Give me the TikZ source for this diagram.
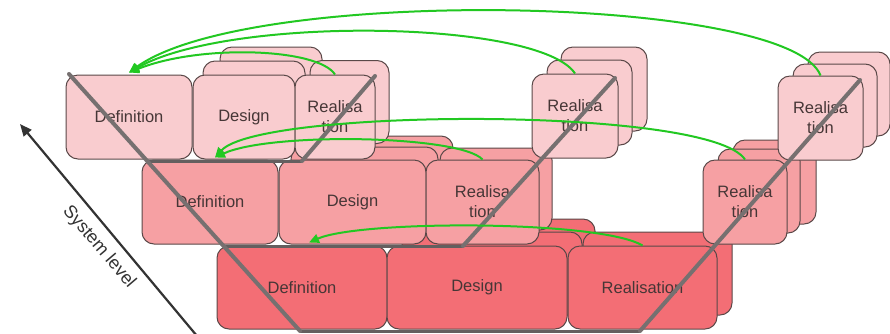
\documentclass[tikz,border=0pt]{standalone}
\usepackage{fontspec}
\setmainfont{Liberation Sans}
\usetikzlibrary{arrows.meta}
\definecolor{ctop}{HTML}{F9CCCF}
\definecolor{cmid}{HTML}{F6A0A3}
\definecolor{cbot}{HTML}{F36E75}
\definecolor{cedge}{HTML}{5A4848}
\definecolor{ctext}{HTML}{463636}
\definecolor{cvline}{HTML}{767070}
\definecolor{cgreen}{HTML}{22C822}
\definecolor{caxis}{HTML}{333333}
\begin{document}
\begin{tikzpicture}[x=1pt,y=-1pt,
  blk/.style={draw=cedge, line width=1pt, rounded corners=12pt, inner sep=0pt,
    text=ctext, align=center, font=\fontsize{16.5}{20}\selectfont},
  sz/.style 2 args={minimum width=#1pt, minimum height=#2pt},
  toprow/.style={blk, fill=ctop},
  midrow/.style={blk, fill=cmid},
  botrow/.style={blk, fill=cbot},
  vline/.style={draw=cvline, line width=4pt, line cap=round},
  hline/.style={draw=cvline!85!black, line width=3pt},
  fb/.style={draw=cgreen, line width=2pt, -{Triangle[length=10pt,width=9pt]}},
  axis/.style={draw=caxis, line width=2.2pt, -{Triangle[length=12pt,width=10pt]}},
  axislabel/.style={text=caxis, font=\fontsize{18}{22}\selectfont, rotate=-49.6}]
\useasboundingbox (0,0) rectangle (890,333);

% ---- bottom row ----
\node[botrow, sz={170}{83}] (bDef) at (302,287.5) {Definition};
\node[botrow, sz={180}{83}] (bDesB2) at (505,260.5) {};
\node[botrow, sz={180}{83}] (bDesB1) at (492,273.5) {};
\node[botrow, sz={180}{83}] (bDes) at (477,287.5) {Design};
\node[botrow, sz={149}{83}] (bReaB1) at (657.5,273.5) {};
\node[botrow, sz={149}{83}] (bRea) at (642.5,287.5) {Realisation};

% ---- middle row ----
\node[midrow, sz={136}{84}] (mDef) at (210,202) {Definition};
\node[midrow, sz={147}{84}] (mDesB2) at (379.5,178) {};
\node[midrow, sz={147}{84}] (mDesB1) at (364.5,189) {};
\node[midrow, sz={147}{84}] (mDes) at (352.5,202) {Design};
\node[midrow, sz={112}{82}] (mReaB1) at (496,189) {};
\node[midrow, sz={113}{84}] (mRea) at (482.5,202) {Realisa\\tion};
\node[midrow, sz={83}{84}] (mrRB2) at (774.5,182) {};
\node[midrow, sz={82}{84}] (mrRB1) at (759,191) {};
\node[midrow, sz={84}{84}] (mrR) at (745,202) {Realisa\\tion};

% ---- top row ----
\node[toprow, sz={126}{84}] (tDef) at (129,117) {Definition};
\node[toprow, sz={102}{84}] (tDesB2) at (271,89) {};
\node[toprow, sz={102}{84}] (tDesB1) at (254,103) {};
\node[toprow, sz={102}{84}] (tDes) at (244,117) {Design};
\node[toprow, sz={79}{83}] (tReaB1) at (349.5,102) {};
\node[toprow, sz={80}{84}] (tRea) at (335,117) {Realisa\\tion};
\node[toprow, sz={86}{84}] (tmRB2) at (604,89) {};
\node[toprow, sz={85}{85}] (tmRB1) at (589.5,102.5) {};
\node[toprow, sz={86}{84}] (tmR) at (575,116) {Realisa\\tion};
\node[toprow, sz={82}{84}] (trRB2) at (849,94) {};
\node[toprow, sz={84}{83}] (trRB1) at (835,105.5) {};
\node[toprow, sz={85}{84}] (trR) at (820.5,118) {Realisa\\tion};

% ---- V lines ----
\coordinate (v1a) at (69,74);
\coordinate (v1b) at (300,331);
\coordinate (v1c) at (640,331);
\coordinate (v1d) at (860,80);
\coordinate (v2a) at (224,246);
\coordinate (v2b) at (463,246);
\coordinate (v2c) at (615,78);
\coordinate (v3a) at (148,161);
\coordinate (v3b) at (302,161);
\coordinate (v3c) at (375,76);
\draw[hline] (v1b) -- (v1c);
\draw[hline] (v2a) -- (v2b);
\draw[hline] (v3a) -- (v3b);
\draw[vline] (v1a) -- (v1b);
\draw[vline] (v1c) -- (v1d);
\draw[vline] (v2b) -- (v2c);
\draw[vline] (v3b) -- (v3c);

% ---- feedback arrows ----
\draw[fb] (trR.north) .. controls (790,-5) and (250,-15) .. ([yshift=2pt]tDef.north);
\draw[fb] (tmR.north) .. controls (540,20) and (230,15) .. ([yshift=2pt]tDef.north);
\draw[fb] (tRea.north) .. controls (318,48) and (200,44) .. ([yshift=2pt]tDef.north);
\draw[fb] (mrR.north) .. controls (710,106) and (260,108) .. ([xshift=5pt,yshift=2pt]mDef.north);
\draw[fb] (mRea.north) .. controls (460,135) and (270,132) .. ([xshift=5pt,yshift=2pt]mDef.north);
\draw[fb] (bRea.north) .. controls (600,220) and (360,220) .. ([xshift=7pt,yshift=3pt]bDef.north);

% ---- system level axis ----
\coordinate (sysA) at (197,336);
\coordinate (sysB) at (20,124);
\draw[axis] (sysA) -- (sysB);
\node[axislabel] (syslbl) at (99,247) {System level};
\end{tikzpicture}
\end{document}
